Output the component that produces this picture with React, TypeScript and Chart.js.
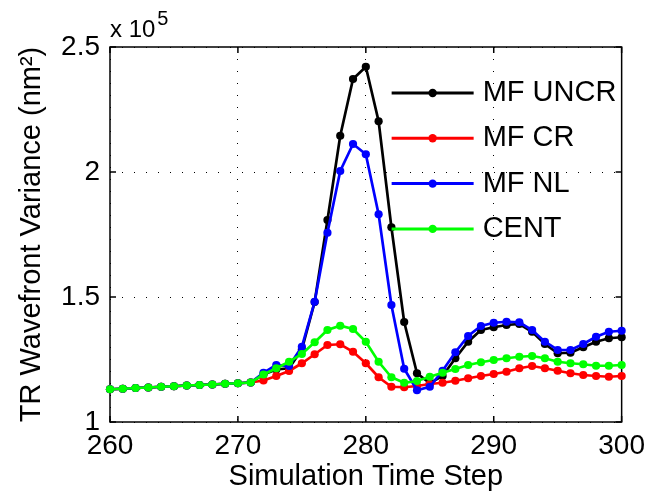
import React, { useEffect, useRef } from 'react';
import { Chart, registerables } from 'chart.js';

Chart.register(...registerables);

// ---- data (values in units of 10^5 nm^2) ----
const steps = [
  260, 261, 262, 263, 264, 265, 266, 267, 268, 269,
  270, 271, 272, 273, 274, 275, 276, 277, 278, 279,
  280, 281, 282, 283, 284, 285, 286, 287, 288, 289,
  290, 291, 292, 293, 294, 295, 296, 297, 298, 299, 300,
];

const mfUncr = [
  1.131, 1.133, 1.136, 1.138, 1.141, 1.143, 1.146, 1.148, 1.150, 1.153,
  1.155, 1.158, 1.190, 1.210, 1.215, 1.290, 1.480, 1.808, 2.145, 2.372,
  2.421, 2.203, 1.779, 1.400, 1.195, 1.155, 1.184, 1.255, 1.321, 1.368,
  1.379, 1.388, 1.392, 1.361, 1.312, 1.275, 1.277, 1.299, 1.321, 1.335, 1.339,
];

const mfCr = [
  1.131, 1.133, 1.136, 1.138, 1.141, 1.143, 1.146, 1.148, 1.150, 1.153,
  1.155, 1.158, 1.166, 1.184, 1.204, 1.235, 1.271, 1.308, 1.311, 1.281,
  1.235, 1.179, 1.141, 1.139, 1.144, 1.152, 1.157, 1.165, 1.175, 1.184,
  1.192, 1.201, 1.215, 1.224, 1.215, 1.205, 1.195, 1.188, 1.184, 1.181, 1.184,
];

const mfNl = [
  1.131, 1.133, 1.136, 1.138, 1.141, 1.143, 1.146, 1.148, 1.150, 1.153,
  1.155, 1.158, 1.197, 1.228, 1.224, 1.301, 1.481, 1.757, 2.004, 2.112,
  2.071, 1.831, 1.468, 1.213, 1.127, 1.141, 1.205, 1.279, 1.344, 1.384,
  1.397, 1.401, 1.399, 1.368, 1.321, 1.288, 1.288, 1.312, 1.341, 1.361, 1.365,
];

const cent = [
  1.131, 1.133, 1.136, 1.138, 1.141, 1.143, 1.146, 1.148, 1.150, 1.153,
  1.155, 1.158, 1.190, 1.215, 1.241, 1.272, 1.319, 1.368, 1.385, 1.372,
  1.321, 1.241, 1.179, 1.157, 1.164, 1.181, 1.197, 1.212, 1.228, 1.239,
  1.248, 1.255, 1.261, 1.264, 1.255, 1.241, 1.235, 1.231, 1.225, 1.225, 1.228,
];

const seriesNames = ['MF UNCR', 'MF CR', 'MF NL', 'CENT'];
const seriesColors = ['#000000', '#ff0000', '#0000ff', '#00ff00'];
const seriesValues = [mfUncr, mfCr, mfNl, cent];

const xTitle = 'Simulation Time Step';
const yTitle = 'TR Wavefront Variance (nm\u00B2)';
const exponentBase = 'x 10';
const exponentPower = '5';

const FONT = '"Liberation Sans", Arial, Helvetica, sans-serif';

const matlabDecor = {
  id: 'matlabDecor',
  beforeDatasetsDraw(chart: any) {
    const { ctx, chartArea, scales } = chart;
    const { left, right, top, bottom } = chartArea;
    ctx.save();
    ctx.strokeStyle = '#000';
    ctx.lineWidth = 1.5;
    ctx.strokeRect(left, top, right - left, bottom - top);
    const tl = 6;
    ctx.beginPath();
    scales.x.ticks.forEach((t: any) => {
      const px = scales.x.getPixelForValue(t.value);
      ctx.moveTo(px, bottom);
      ctx.lineTo(px, bottom - tl);
      ctx.moveTo(px, top);
      ctx.lineTo(px, top + tl);
    });
    scales.y.ticks.forEach((t: any) => {
      const py = scales.y.getPixelForValue(t.value);
      ctx.moveTo(left, py);
      ctx.lineTo(left + tl, py);
      ctx.moveTo(right, py);
      ctx.lineTo(right - tl, py);
    });
    ctx.stroke();
    // exponent label
    ctx.fillStyle = '#000';
    ctx.textBaseline = 'alphabetic';
    ctx.textAlign = 'left';
    ctx.font = `24px ${FONT}`;
    ctx.fillText(exponentBase, left, top - 10);
    const w = ctx.measureText(exponentBase).width;
    ctx.font = `20px ${FONT}`;
    ctx.fillText(exponentPower, left + w + 2, top - 22);
    ctx.restore();
  },
  afterDatasetsDraw(chart: any) {
    const { ctx, chartArea } = chart;
    const { right, top } = chartArea;
    ctx.save();
    chart.data.datasets.forEach((ds: any, i: number) => {
      const y = top + 46 + i * 45.3;
      ctx.strokeStyle = ds.borderColor;
      ctx.lineWidth = 3;
      ctx.beginPath();
      ctx.moveTo(right - 230, y);
      ctx.lineTo(right - 148, y);
      ctx.stroke();
      ctx.fillStyle = ds.borderColor;
      ctx.beginPath();
      ctx.arc(right - 189, y, 4.2, 0, Math.PI * 2);
      ctx.fill();
      ctx.fillStyle = '#000';
      ctx.font = `29px ${FONT}`;
      ctx.textAlign = 'left';
      ctx.textBaseline = 'middle';
      ctx.fillText(ds.label, right - 139, y);
    });
    ctx.restore();
  },
};

export default function App() {
  const ref = useRef<HTMLCanvasElement | null>(null);

  useEffect(() => {
    document.body.style.margin = '0';
    const canvas = ref.current;
    if (!canvas) return;
    const datasets = seriesNames.map((name, i) => ({
      label: name,
      data: steps.map((s, j) => ({ x: s, y: seriesValues[i][j] })),
      borderColor: seriesColors[i],
      backgroundColor: seriesColors[i],
      pointBackgroundColor: seriesColors[i],
      pointBorderColor: seriesColors[i],
      pointBorderWidth: 0,
      pointRadius: 4.1,
      borderWidth: 2.7,
      tension: 0,
      clip: false as any,
      order: seriesNames.length - i,
    }));

    const chart = new Chart(canvas, {
      type: 'line',
      data: { datasets },
      options: {
        responsive: false,
        animation: false,
        devicePixelRatio: 1,
        layout: { padding: { top: 47, right: 29, left: 0, bottom: 0 } },
        plugins: {
          legend: { display: false },
          tooltip: { enabled: false },
        },
        scales: {
          x: {
            type: 'linear',
            min: 260,
            max: 300,
            ticks: {
              stepSize: 10,
              color: '#000',
              padding: 7,
              maxRotation: 0,
              autoSkip: false,
              font: { size: 28, family: FONT },
            },
            grid: { color: '#000', lineWidth: 1, drawTicks: false },
            border: { display: false, dash: [1, 11] },
            title: {
              display: true,
              text: xTitle,
              color: '#000',
              font: { size: 29, family: FONT, lineHeight: 1 },
              padding: { top: 0, bottom: 1.5 },
            },
            afterFit: (s: any) => {
              s.height = 71;
            },
          },
          y: {
            type: 'linear',
            min: 1,
            max: 2.5,
            ticks: {
              stepSize: 0.5,
              color: '#000',
              padding: 10,
              font: { size: 28, family: FONT },
              callback: (v: any) => String(v),
            },
            grid: { color: '#000', lineWidth: 1, drawTicks: false },
            border: { display: false, dash: [1, 11] },
            title: {
              display: true,
              text: yTitle,
              color: '#000',
              font: { size: 29, family: FONT, lineHeight: 1 },
              padding: { top: 17.5, bottom: 0 },
            },
            afterFit: (s: any) => {
              s.width = 110;
            },
          },
        },
      },
      plugins: [matlabDecor],
    });
    return () => chart.destroy();
  }, []);

  return (
    <div style={{ width: 652, height: 493, background: '#fff' }}>
      <canvas ref={ref} width={652} height={493} style={{ display: 'block' }} />
    </div>
  );
}
